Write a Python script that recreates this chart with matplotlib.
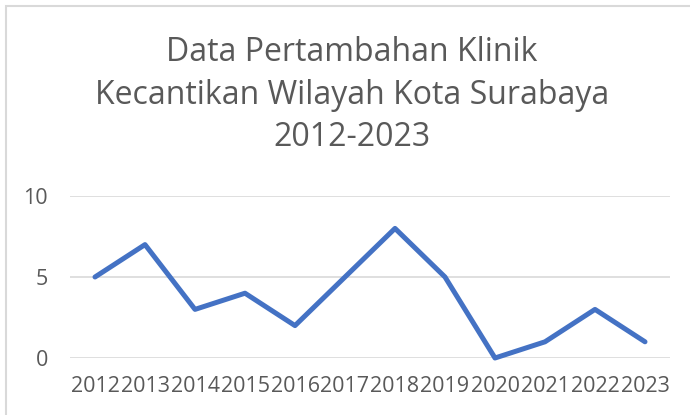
import matplotlib.pyplot as plt
import matplotlib.patches as patches

years = ['2012', '2013', '2014', '2015', '2016', '2017',
         '2018', '2019', '2020', '2021', '2022', '2023']
klinik = [5, 7, 3, 4, 2, 5, 8, 5, 0, 1, 3, 1]
yticks = [0, 5, 10]

W, H = 690, 415
fig = plt.figure(figsize=(W / 100, H / 100), dpi=100)

# chart area border (Excel style)
fig.patches.append(patches.Rectangle((6 / W, -0.05), 1.0, (H - 6) / H + 0.05,
                                     transform=fig.transFigure, fill=False,
                                     edgecolor='#d9d9d9', linewidth=1.5))

# plot area: x from 70 to 670 px, y 0 at 358 px, 10 at 196 px
ax = fig.add_axes([70 / W, (H - 358) / H, 600 / W, 162 / H])
x = list(range(len(years)))
ax.plot(x, klinik, color='#4472C4', linewidth=3.6, solid_capstyle='round',
        solid_joinstyle='round', clip_on=False)

ax.set_xlim(-0.5, len(years) - 0.5)
ax.set_ylim(0, 10)
ax.set_yticks(yticks)
ax.set_xticks(x)
ax.set_xticklabels(years)
ax.grid(axis='y', color='#d9d9d9', linewidth=1.2)
ax.set_axisbelow(True)
for s in ax.spines.values():
    s.set_visible(False)
ax.tick_params(length=0, labelsize=15.5, labelcolor='#595959')
ax.tick_params(axis='x', pad=13)
ax.tick_params(axis='y', pad=16)
for lab in ax.get_xticklabels() + ax.get_yticklabels():
    lab.set_family('Open Sans')

fig.text(352 / W, 1 - 95 / H, 'Data Pertambahan Klinik\nKecantikan Wilayah Kota Surabaya\n2012-2023',
         ha='center', va='center', fontsize=23, color='#595959',
         family='Open Sans', linespacing=1.38)

fig.savefig('out.png', dpi=100)
